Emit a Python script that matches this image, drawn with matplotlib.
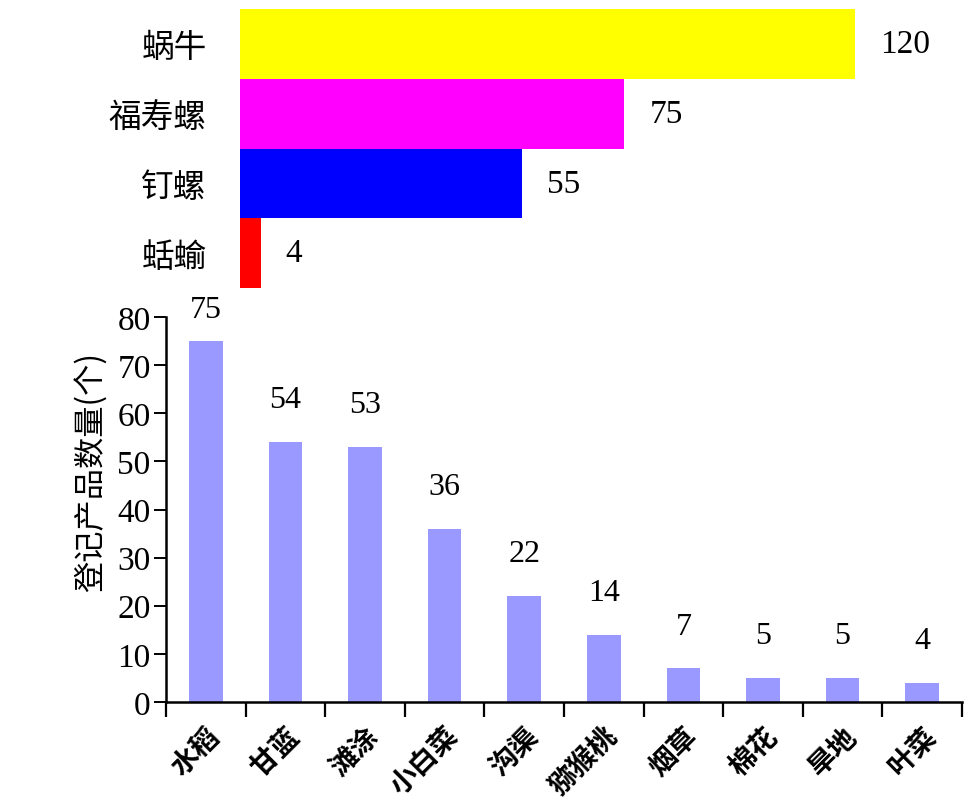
import numpy as np
import matplotlib.pyplot as plt

# top panel: snail-type pests
pest_names = ["蜗牛", "福寿螺", "钉螺", "蛞蝓"]
pest_counts = [120, 75, 55, 4]
pest_colors = ["#FFFF00", "#FF00FF", "#0000FF", "#FF0000"]

# bottom panel: crops / sites
crop_names = ["水稻", "甘蓝", "滩涂", "小白菜", "沟渠", "猕猴桃", "烟草", "棉花", "旱地", "叶菜"]
crop_counts = [75, 54, 53, 36, 22, 14, 7, 5, 5, 4]

NUM_FONT = ["Liberation Serif", "Noto Sans CJK SC"]
CJK_FONT = ["Noto Sans CJK SC", "DejaVu Sans"]


def main():
    fig = plt.figure(figsize=(9.76, 8.04), dpi=100)
    fig.patch.set_facecolor("white")

    # ------------------------------------------------------------------
    # Top: horizontal bars, no axes
    # ------------------------------------------------------------------
    ax1 = fig.add_axes([240 / 976, 1 - 289 / 804, 722 / 976, 279 / 804])
    y = np.arange(len(pest_names))
    ax1.barh(y, pest_counts, height=1.0, color=pest_colors)
    ax1.set_ylim(len(pest_names) - 0.5, -0.5)
    ax1.set_xlim(0, 722 / 5.125)
    ax1.set_yticks(y)
    ax1.set_yticklabels(pest_names, family=CJK_FONT, fontsize=23.5)
    ax1.tick_params(axis="y", length=0, pad=24)
    ax1.set_xticks([])
    for s in ax1.spines.values():
        s.set_visible(False)
    for yi, v in zip(y, pest_counts):
        ax1.annotate(str(v), (v, yi), xytext=(18, 0), textcoords="offset points",
                     ha="left", va="center", family=NUM_FONT, fontsize=24)

    # ------------------------------------------------------------------
    # Bottom: vertical bars
    # ------------------------------------------------------------------
    ax2 = fig.add_axes([166 / 976, 1 - 703 / 804, 796 / 976, 385 / 804])
    x = np.arange(len(crop_names))
    ax2.bar(x, crop_counts, width=0.42, color="#9999FF")
    ax2.set_xlim(-0.5, len(crop_names) - 0.5)
    ax2.set_ylim(0, 80)
    ax2.set_yticks(np.arange(0, 81, 10))
    ax2.set_yticklabels([str(v) for v in range(0, 81, 10)], family=NUM_FONT, fontsize=24)
    ax2.set_xticks(np.arange(-0.5, len(crop_names)), minor=False)
    ax2.set_xticklabels([])
    ax2.set_xticks(x, minor=True)
    ax2.set_xticklabels(crop_names, minor=True, rotation=45, ha="right", va="top",
                        rotation_mode="anchor", family=CJK_FONT, fontsize=20,
                        fontweight="bold")
    ax2.tick_params(axis="x", which="major", direction="out", length=11, width=1.6)
    ax2.tick_params(axis="x", which="minor", length=0, pad=14)
    ax2.tick_params(axis="y", direction="out", length=9, width=1.4, pad=2)
    for side in ["top", "right"]:
        ax2.spines[side].set_visible(False)
    for side in ["left", "bottom"]:
        ax2.spines[side].set_linewidth(1.8)
    ax2.set_ylabel("登记产品数量(个)", family=CJK_FONT, fontsize=22.5, labelpad=2)
    ax2.yaxis.set_label_coords(-0.073, 0.60)

    for xi, v in zip(x, crop_counts):
        off = 12 if v == max(crop_counts) else 20
        ax2.annotate(str(v), (xi, v), xytext=(0, off), textcoords="offset points",
                     ha="center", va="bottom", family=NUM_FONT, fontsize=23,
                     annotation_clip=False)

    fig.savefig("out.png", dpi=100, facecolor="white")
    plt.close(fig)


if __name__ == "__main__":
    main()
